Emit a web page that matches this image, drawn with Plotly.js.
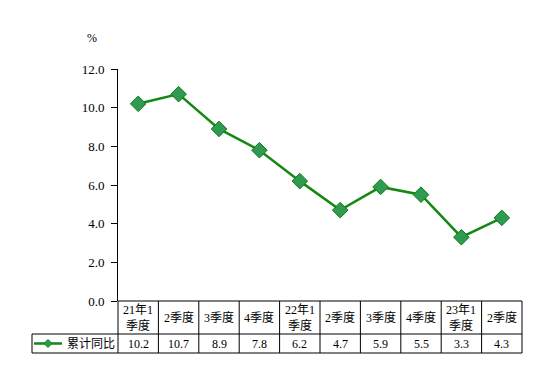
<!DOCTYPE html>
<html>
<head>
<meta charset="utf-8">
<script src="https://cdn.plot.ly/plotly-3.0.1.min.js"></script>
<style>html,body{margin:0;padding:0;background:#fff;}#chart{width:554px;height:392px;}</style>
</head>
<body>
<div id="chart"></div>
<script>
const categories = ["21年1<br>季度", "2季度", "3季度", "4季度", "22年1<br>季度", "2季度", "3季度", "4季度", "23年1<br>季度", "2季度"];
const values = [10.2, 10.7, 8.9, 7.8, 6.2, 4.7, 5.9, 5.5, 3.3, 4.3];
const valueLabels = ["10.2", "10.7", "8.9", "7.8", "6.2", "4.7", "5.9", "5.5", "3.3", "4.3"];
const yTicks = [0, 2, 4, 6, 8, 10, 12];
const seriesName = "累计同比";

const FONT = "Liberation Serif, 'Times New Roman', 'Noto Sans CJK SC', serif";
const idx = values.map((_, i) => i);
const n = values.length;

// table geometry in paper units (plot area height = 232px, width = 404px)
const W = 404, H = 232;
const row1 = -33 / H, row2 = -52 / H, legLeft = -86 / W;
const lineStyle = {color: "#000", width: 1};
const shapes = [];
shapes.push({type: "line", xref: "paper", yref: "paper", x0: legLeft, x1: 1, y0: row1, y1: row1, line: lineStyle});
shapes.push({type: "line", xref: "paper", yref: "paper", x0: legLeft, x1: 1, y0: row2, y1: row2, line: lineStyle});
shapes.push({type: "line", xref: "paper", yref: "paper", x0: 0, x1: 1, y0: 0, y1: 0, line: lineStyle});
shapes.push({type: "line", xref: "paper", yref: "paper", x0: legLeft, x1: legLeft, y0: row1, y1: row2, line: lineStyle});
for (let i = 0; i <= n; i++) {
  shapes.push({type: "line", xref: "paper", yref: "paper", x0: i / n, x1: i / n, y0: 0, y1: row2, line: lineStyle});
}
// legend sample: line + diamond
const lgY = (row1 + row2) / 2;
shapes.push({type: "line", xref: "paper", yref: "paper", x0: -84 / W, x1: -56 / W, y0: lgY, y1: lgY, line: {color: "#138913", width: 2.5}});
const cx = -70 / W, dx = 4 / W, dy = 4 / H;
shapes.push({type: "path", xref: "paper", yref: "paper",
  path: `M ${cx - dx} ${lgY} L ${cx} ${lgY + dy} L ${cx + dx} ${lgY} L ${cx} ${lgY - dy} Z`,
  fillcolor: "#2e9a52", line: {color: "#137a13", width: 1}});

const annotations = [];
categories.forEach((c, i) => {
  annotations.push({x: i, xref: "x", y: row1 / 2, yref: "paper", text: c, showarrow: false,
    font: {family: FONT, size: 12, color: "#000"}, xanchor: "center", yanchor: "middle"});
  annotations.push({x: i, xref: "x", y: lgY, yref: "paper", text: valueLabels[i], showarrow: false,
    font: {family: FONT, size: 12, color: "#000"}, xanchor: "center", yanchor: "middle"});
});
annotations.push({x: -27 / W, xref: "paper", y: lgY, yref: "paper", text: seriesName, showarrow: false,
  font: {family: FONT, size: 12, color: "#000"}, xanchor: "center", yanchor: "middle"});
annotations.push({x: -26 / W, xref: "paper", y: 1 + 31 / H, yref: "paper", text: "%", showarrow: false,
  font: {family: FONT, size: 12, color: "#000"}, xanchor: "center", yanchor: "middle"});

const trace = {
  x: idx, y: values, type: "scatter", mode: "lines+markers", name: seriesName,
  line: {color: "#138913", width: 2.5},
  marker: {symbol: "diamond", size: 12, color: "#2e9a52", line: {color: "#137a13", width: 1}},
  cliponaxis: false, hoverinfo: "skip"
};

const layout = {
  width: 554, height: 392,
  margin: {l: 118, r: 32, t: 69, b: 91},
  paper_bgcolor: "#fff", plot_bgcolor: "#fff",
  showlegend: false,
  xaxis: {range: [-0.5, n - 0.5], showticklabels: false, showgrid: false, zeroline: false, showline: false, ticks: "", fixedrange: true},
  yaxis: {range: [0, 12], tickvals: yTicks, ticktext: yTicks.map(v => v.toFixed(1)), showgrid: false, zeroline: false,
    showline: true, linecolor: "#000", linewidth: 1, ticks: "outside", ticklen: 6, tickcolor: "#000", tickwidth: 1,
    tickfont: {family: FONT, size: 13, color: "#000"}, ticklabelstandoff: 4},
  shapes: shapes,
  annotations: annotations
};

Plotly.newPlot("chart", [trace], layout, {displayModeBar: false, staticPlot: true});
</script>
</body>
</html>
